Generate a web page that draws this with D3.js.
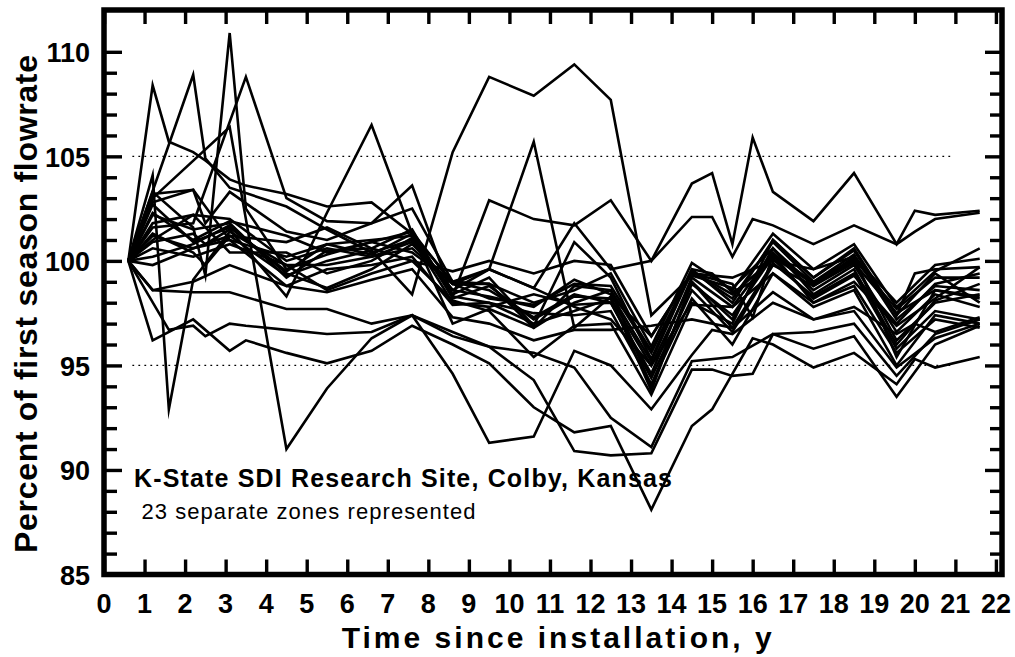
<!DOCTYPE html>
<html>
<head>
<meta charset="utf-8">
<script src="https://cdn.jsdelivr.net/npm/d3@7"></script>
<style>
  html, body { margin: 0; padding: 0; background: #fff; }
  svg { display: block; }
  text { font-family: "Liberation Sans", Arial, sans-serif; fill: #000; }
</style>
</head>
<body>
<svg id="chart" width="1015" height="657"></svg>
<script>
// ---- DATA ----
const times = [0.6, 1.2, 1.6, 2.2, 2.5, 3.1, 3.5, 4.5, 5.5, 6.6, 7.6, 8.6, 9.5, 10.6, 11.6, 12.5, 13.5, 14.5, 15.0, 15.5, 16.0, 16.5, 17.5, 18.5, 19.55, 20.0, 20.5, 21.6];

const z01 = [100, 108.4, 105.7, 105.2, 104.8, 103.9, 103.6, 103.2, 102.6, 102.8, 101.3, 99.0, 98.6, 97.3, 98.4, 98.0, 94.6, 99.2, null, 97.8, null, 100.4, 98.6, 99.8, 96.6, null, 98.4, 97.8];
const z02 = [100, null, null, 108.9, 104.9, 103.5, null, 102.6, 101.5, 100.4, 101.0, 98.6, 98.3, 97.8, 99.1, 98.4, 95.2, 99.5, null, 98.2, null, 100.9, 99.0, 100.3, 97.2, null, 98.8, 98.6];
const z03 = [100, 103.3, null, 101.6, 99.3, 110.9, 102.5, 99.6, 100.3, 100.9, 101.4, 98.9, 98.9, 96.8, 98.0, 98.6, 94.0, 98.9, null, 97.4, null, 100.2, 98.9, 100.0, 96.2, null, 98.0, 98.4];
const z04 = [100, 101.6, null, 101.8, null, null, 108.8, 103.0, 101.9, 101.8, 103.6, 98.3, 98.0, 97.0, 97.6, 98.2, 93.8, 99.0, null, 96.8, null, 99.9, 98.3, 99.4, 95.8, null, 97.6, 97.2];
const z05 = [100, 103.0, null, null, null, 106.4, null, 91.0, 93.9, 96.3, 97.4, 94.6, 91.3, 91.6, 95.7, 95.0, 92.9, 95.5, 96.7, 96.5, null, 98.0, 97.2, 97.6, 94.9, null, 96.3, 97.0];
const z06 = [100, 104.1, 92.9, 99.1, null, 101.4, null, 99.8, 98.6, 99.4, 100.0, 98.1, 97.6, 95.4, 96.9, 97.0, 93.6, 97.9, null, 97.8, null, 99.4, 98.0, 98.8, 95.6, null, 97.2, 96.8];
const z07 = [100, null, 96.7, 96.9, 96.4, 97.0, 96.9, 96.7, 96.5, 96.6, 97.4, 96.4, 95.9, 95.6, 94.9, 92.5, 91.1, 95.2, null, 95.4, null, 96.5, 96.6, 97.0, 94.5, null, 96.5, 97.2];
const z08 = [100, 96.2, null, 97.2, null, 95.7, 96.2, 95.6, 95.1, 95.7, 96.9, 96.0, 95.1, 93.0, 91.8, 92.1, 88.1, 92.1, 92.9, 94.6, 96.3, 96.0, 94.9, 95.6, 94.1, 95.3, 94.9, 95.4];
const z09 = [100, 98.6, null, 98.5, null, 98.5, null, 97.7, 97.7, 97.0, 97.4, 96.6, 95.9, 94.3, 90.9, 90.7, 90.8, 94.8, 94.8, 94.5, 94.6, 96.5, 95.8, 96.4, 93.5, null, 96.0, 96.9];
const z10 = [100, 101.2, null, 100.6, null, 101.2, null, 99.3, 100.0, 100.5, 98.4, 105.2, 108.8, 107.9, 109.4, 107.7, 97.4, 99.3, null, 98.7, null, 100.6, 98.8, 99.9, 97.5, null, 98.6, 98.3];
const z11 = [100, 102.8, null, 103.4, null, 101.0, null, 100.2, 100.8, 101.0, 101.2, 98.3, 102.9, 102.0, 101.7, 102.9, 100.0, 103.7, 104.2, 100.8, 105.9, 103.3, 101.9, 104.2, 100.8, 102.4, 102.2, 102.4];
const z12 = [100, 102.3, null, 101.0, null, 101.9, null, 101.2, 100.4, 100.9, 100.4, 99.0, 99.6, 98.7, 101.8, 99.6, 100.0, 102.1, 102.1, 100.2, 102.0, 101.7, 100.8, 101.7, 100.8, 101.4, 102.0, 102.3];
const z13 = [100, 100.9, null, 101.3, 100.8, 101.5, null, 98.3, 102.3, 106.5, 101.3, 97.0, 97.7, 96.8, 98.8, 98.6, 95.6, 99.6, 99.4, 98.5, 99.0, 101.0, 99.2, 100.5, 97.4, 99.4, 99.6, 99.7];
const z14 = [100, 101.8, null, 102.2, null, 102.0, null, 100.0, 100.6, 100.2, 100.9, 98.6, 99.6, 105.7, 96.8, 98.3, 96.4, 99.4, null, 98.9, 97.3, 100.3, 99.0, 100.1, 97.7, null, 99.2, 99.2];
const z15 = [100, 103.2, null, 103.4, 101.8, 103.3, null, 101.4, 101.0, 101.8, 102.5, 99.0, 98.9, 98.0, 98.6, 99.4, 95.9, 99.9, null, 98.6, null, 101.3, 99.6, 100.8, 97.8, null, 99.5, 100.6];
const z16 = [100, 102.2, null, 101.5, null, 101.8, null, 99.2, 100.5, 100.6, 101.5, 98.2, 98.8, 97.2, 98.3, 98.2, 95.0, 99.0, null, 97.2, null, 100.6, 98.4, 99.6, 96.0, null, 98.1, 98.9];
const z17 = [100, 100.6, null, 100.2, null, 100.8, null, 99.8, 99.8, 100.2, 100.6, 98.9, 98.2, 97.9, 98.9, 98.8, 95.7, 99.5, null, 98.4, null, 100.1, 98.2, 99.3, 97.0, null, 98.9, 99.4];
const z18 = [100, 101.0, null, 102.2, null, 100.4, null, 100.4, 99.4, 100.0, 101.1, 98.0, 97.8, 98.4, 97.9, 98.0, 94.4, 98.6, null, 96.6, null, 99.8, 98.8, 100.2, 95.4, null, 98.6, 98.2];
const z19 = [100, 102.7, null, 100.9, null, 101.6, null, 99.5, 100.8, 100.3, 101.3, 98.4, 99.2, 96.9, 100.9, 99.2, 95.3, 99.6, null, 98.0, null, 101.0, 99.2, 100.6, 97.4, null, 99.4, 98.0];
const z20 = [100, 99.8, null, 100.6, null, 101.0, null, 98.8, 99.6, 99.8, 100.2, 97.9, 98.0, 97.5, 97.4, 97.6, 94.1, 98.2, null, 96.0, null, 99.4, 97.8, 98.6, 95.0, null, 97.4, 97.0];
const z21 = [100, 98.6, null, 99.0, null, 99.8, null, 98.8, 98.5, 99.1, 99.6, 97.3, 97.0, 96.2, 96.7, 96.7, 96.9, 97.2, null, 96.8, null, 98.5, 97.2, 97.8, 96.5, 97.0, 96.6, 97.3];
const z22 = [100, 101.3, null, 100.4, 99.8, 101.2, null, 100.9, 101.6, 100.6, 100.0, 99.5, 100.0, 99.4, 100.0, 99.8, 96.4, 99.4, null, 99.2, null, 100.0, 99.6, 100.2, 98.0, null, 99.8, 100.1];
const z23 = [100, 100.2, null, 100.8, null, 101.7, null, 99.4, 98.7, 99.6, 100.8, 98.9, 99.6, 98.7, 97.8, 97.2, 95.0, 98.0, null, 97.0, 99.0, 100.3, 98.0, 99.0, 96.9, null, 98.2, 99.7];

const zones = [z01, z02, z03, z04, z05, z06, z07, z08, z09, z10, z11, z12, z13, z14, z15, z16, z17, z18, z19, z20, z21, z22, z23];

const xTicks = d3.range(0, 23);            // 0 .. 22
const yMajor = [85, 90, 95, 100, 105, 110];
const yMinor = d3.range(86, 110).filter(v => v % 5 !== 0);
const refLines = [95, 105];
const refSpan = [0.7, 20.9];

const xTitle = "Time since installation, y";
const yTitle = "Percent of first season flowrate";
const note1 = "K-State SDI Research Site, Colby, Kansas";
const note2 = "23 separate zones represented";

// ---- LAYOUT ----
const L = 104, R = 1002, T = 10, B = 574.5;
const x = d3.scaleLinear().domain([0, 22.15]).range([L, R]);
const y = d3.scaleLinear().domain([85, 112]).range([B, T]);

const svg = d3.select("#chart");

// reference dotted lines
svg.append("g").selectAll("line").data(refLines).join("line")
  .attr("x1", x(refSpan[0])).attr("x2", x(refSpan[1]))
  .attr("y1", d => y(d)).attr("y2", d => y(d))
  .attr("stroke", "#000").attr("stroke-width", 1.3)
  .attr("stroke-dasharray", "1.8,4.2");

// data lines
const line = d3.line().x(d => x(d[0])).y(d => y(d[1]));
svg.append("g").selectAll("path").data(zones).join("path")
  .attr("d", z => line(times.map((t, i) => [t, z[i]]).filter(p => p[1] != null)))
  .attr("fill", "none").attr("stroke", "#000").attr("stroke-width", 2.6)
  .attr("stroke-linejoin", "miter").attr("stroke-miterlimit", 10);

// axes (ticks inside)
const tickW = 3.4;
const axB = d3.axisBottom(x).tickValues(xTicks).tickSize(-15).tickFormat("");
const axT = d3.axisTop(x).tickValues(xTicks).tickSize(-14).tickFormat("");
const axLmaj = d3.axisLeft(y).tickValues(yMajor).tickSize(-18).tickFormat("");
const axLmin = d3.axisLeft(y).tickValues(yMinor).tickSize(-13).tickFormat("");
const axRmaj = d3.axisRight(y).tickValues(yMajor).tickSize(-17).tickFormat("");
const axRmin = d3.axisRight(y).tickValues(yMinor).tickSize(-12).tickFormat("");

function styleAxis(g) {
  g.select(".domain").remove();
  g.selectAll(".tick line").attr("stroke", "#000").attr("stroke-width", tickW);
}
svg.append("g").attr("transform", `translate(0,${B})`).call(axB).call(styleAxis);
svg.append("g").attr("transform", `translate(0,${T})`).call(axT).call(styleAxis);
svg.append("g").attr("transform", `translate(${L},0)`).call(axLmaj).call(styleAxis);
svg.append("g").attr("transform", `translate(${L},0)`).call(axLmin).call(styleAxis);
svg.append("g").attr("transform", `translate(${R},0)`).call(axRmaj).call(styleAxis);
svg.append("g").attr("transform", `translate(${R},0)`).call(axRmin).call(styleAxis);

// frame
svg.append("rect").attr("x", L).attr("y", T).attr("width", R - L).attr("height", B - T)
  .attr("fill", "none").attr("stroke", "#000").attr("stroke-width", 5.5);

// tick labels
svg.append("g").selectAll("text").data(xTicks).join("text")
  .attr("x", d => x(d)).attr("y", 613)
  .attr("text-anchor", "middle").attr("font-size", 27).attr("font-weight", "bold")
  .text(d => d);
svg.append("g").selectAll("text").data(yMajor).join("text")
  .attr("x", 90).attr("y", d => y(d) + 10.5)
  .attr("text-anchor", "end").attr("font-size", 27).attr("font-weight", "bold")
  .text(d => d);

// axis titles
svg.append("text").attr("x", 556.7).attr("y", 648)
  .attr("text-anchor", "middle").attr("font-size", 30).attr("font-weight", "bold")
  .attr("textLength", 430).attr("lengthAdjust", "spacing")
  .text(xTitle);
svg.append("text").attr("transform", "translate(37,304) rotate(-90)")
  .attr("text-anchor", "middle").attr("font-size", 32).attr("font-weight", "bold")
  .attr("textLength", 498).attr("lengthAdjust", "spacing")
  .text(yTitle);

// annotations
svg.append("text").attr("x", 134).attr("y", 487)
  .attr("font-size", 25).attr("font-weight", "bold")
  .attr("textLength", 538).attr("lengthAdjust", "spacing")
  .text(note1);
svg.append("text").attr("x", 141.5).attr("y", 519)
  .attr("font-size", 22)
  .attr("textLength", 334).attr("lengthAdjust", "spacing")
  .text(note2);
</script>
</body>
</html>
